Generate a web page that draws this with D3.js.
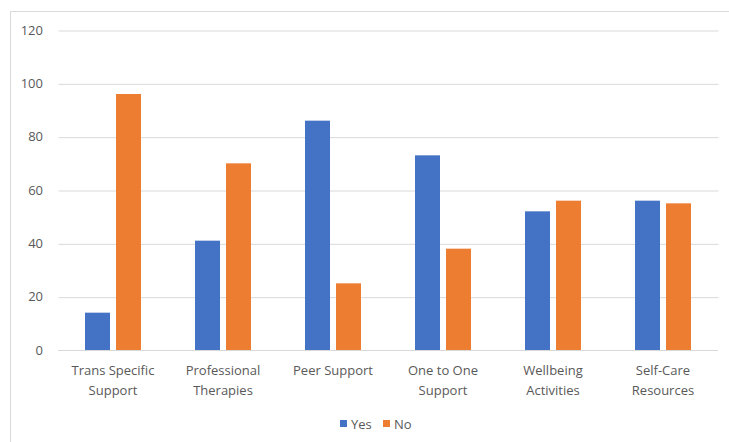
<!DOCTYPE html>
<html>
<head>
<meta charset="utf-8">
<script src="https://cdn.jsdelivr.net/npm/d3@7"></script>
<style>
    body { margin: 0; background: #fff; }
    .axis text { font-family: "Open Sans", sans-serif; fill: #595959; font-size: 13px; }
    .grid-hline line { stroke: #d9d9d9; }
    .grid-hline path { display: none; }
    .title { font-family: "Open Sans", sans-serif; fill: #595959; font-size: 13px; }
</style>
</head>
<body>
<div id="bar"></div>
<script>
const categories = [
    ["Trans Specific", "Support"],
    ["Professional", "Therapies"],
    ["Peer Support"],
    ["One to One", "Support"],
    ["Wellbeing", "Activities"],
    ["Self-Care", "Resources"]
]
const seriesNames = ["Yes", "No"]
const yesValues = [14, 41, 86, 73, 52, 56]
const noValues = [96, 70, 25, 38, 56, 55]
const yTicks = [0, 20, 40, 60, 80, 100, 120]
const colors = ["#4472c4", "#ed7d31"]

drawBarChart()
function drawBarChart() {
    const W = 729, H = 442
    const margin = { top: 30, left: 58, right: 11, bottom: 92 }
    const width = W - margin.left - margin.right,
        height = H - margin.top - margin.bottom

    const svg = d3.select('#bar').append('svg')
        .attr('width', W)
        .attr('height', H)
        .attr('id', 'svg-bar')

    // chart border (only left and top visible in the crop)
    svg.append('path')
        .attr('d', `M10.5,${H} V11.5 H${W}`)
        .attr('fill', 'none')
        .attr('stroke', '#d9d9d9')

    const chart = svg.append('g')
        .attr('transform', `translate(${margin.left},${margin.top})`)

    const yScale = d3.scaleLinear()
        .range([height, 0])
        .domain([0, 120])

    const keys = categories.map((c) => c.join(' '))
    const xScale = d3.scaleBand()
        .range([0, width])
        .domain(keys)

    const barW = 25, barGap = 6
    const xSub = d3.scaleBand()
        .domain(seriesNames)
        .range([xScale.bandwidth() / 2 - barW - barGap / 2, xScale.bandwidth() / 2 + barW + barGap / 2])
        .paddingInner(barGap / (barW + barGap))

    //Draw grid
    chart.append('g')
        .attr('class', 'grid-hline')
        .call(d3.axisLeft(yScale).tickValues(yTicks.slice(1)).tickSize(-width).tickFormat(''))
        .selectAll('line').attr('transform', 'translate(0.5,0.5)')
    //End Draw grid

    // y axis labels
    const yAxis = chart.append('g')
        .attr('class', 'axis')
        .call(d3.axisLeft(yScale).tickValues(yTicks).tickSize(0).tickPadding(15))
    yAxis.select('.domain').remove()

    // bars
    const rows = keys.map((k, i) => ({ key: k, values: [yesValues[i], noValues[i]] }))
    const groups = chart.selectAll('.group')
        .data(rows)
        .enter().append('g')
        .attr('class', 'group')
        .attr('transform', (d) => `translate(${xScale(d.key)},0)`)

    groups.selectAll('rect')
        .data((d) => d.values.map((v, j) => ({ name: seriesNames[j], value: v, color: colors[j] })))
        .enter().append('rect')
        .attr('x', (d) => xSub(d.name))
        .attr('y', (d) => yScale(d.value))
        .attr('width', xSub.bandwidth())
        .attr('height', (d) => height - yScale(d.value))
        .style('fill', (d) => d.color)

    // x axis baseline
    chart.append('line')
        .attr('x1', 0).attr('x2', width)
        .attr('y1', height + 0.5).attr('y2', height + 0.5)
        .attr('stroke', '#d9d9d9')

    // category labels
    const xLabels = chart.append('g').attr('class', 'axis')
    categories.forEach((lines, i) => {
        const t = xLabels.append('text')
            .attr('text-anchor', 'middle')
            .attr('x', xScale(keys[i]) + xScale.bandwidth() / 2)
            .attr('y', height + 25)
        lines.forEach((ln, j) => {
            t.append('tspan')
                .attr('x', xScale(keys[i]) + xScale.bandwidth() / 2)
                .attr('dy', j === 0 ? 0 : 20)
                .text(ln)
        })
    })

    // legend
    const legend = svg.append('g')
    const legendX = [340, 383]
    seriesNames.forEach((name, i) => {
        legend.append('rect')
            .attr('x', legendX[i]).attr('y', 420)
            .attr('width', 7).attr('height', 7)
            .attr('fill', colors[i])
        legend.append('text')
            .attr('class', 'title')
            .attr('x', legendX[i] + 11)
            .attr('y', 428.5)
            .text(name)
    })
}
</script>
</body>
</html>
